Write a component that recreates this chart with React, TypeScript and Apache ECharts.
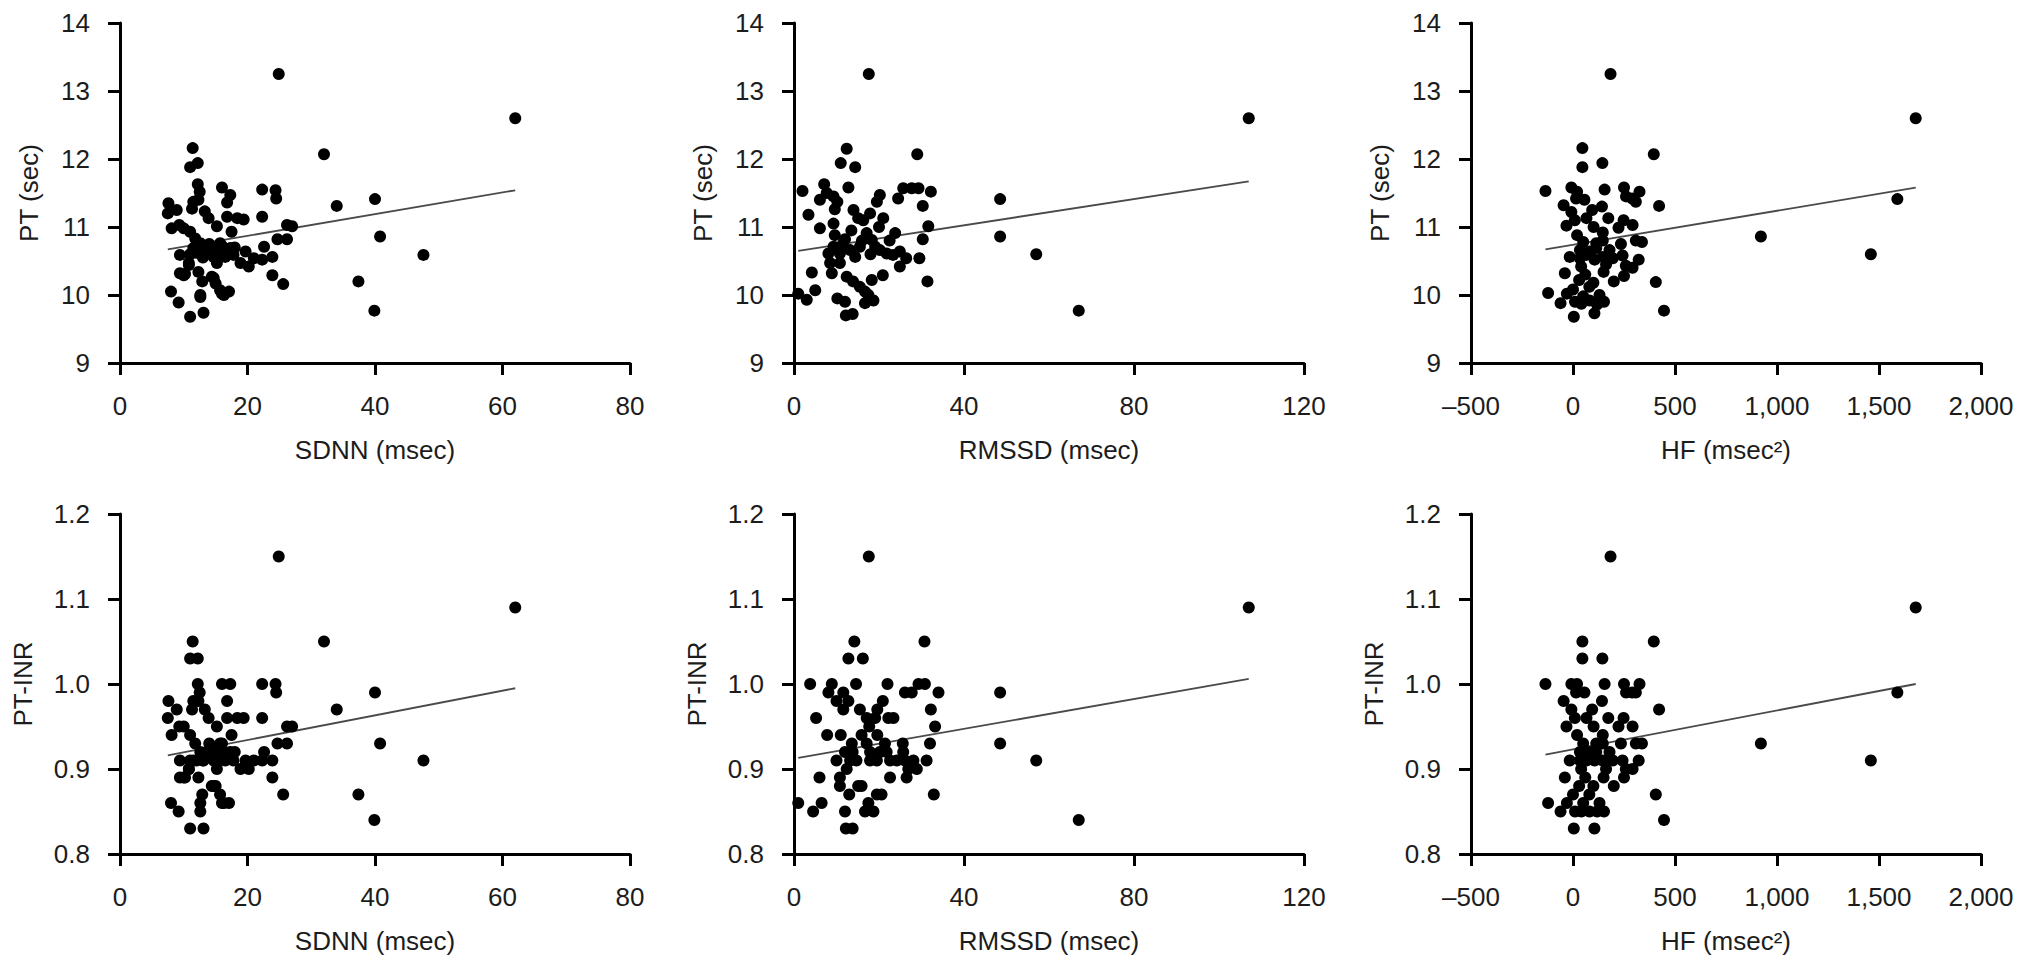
import { useEffect, useRef } from 'react'
import * as echarts from 'echarts'

// points, [x, y]
const SDNN_PT: [number, number][] = [
  [24.9,13.25],[11.4,12.16],[11.0,11.88],[12.2,11.94],[12.2,11.63],[12.5,11.52],[12.3,11.40],[11.5,11.37],
  [16.0,11.58],[17.3,11.47],[16.8,11.36],[22.3,11.55],[24.4,11.54],[24.5,11.42],[32.0,12.07],[34.0,11.31],
  [40.0,11.41],[40.8,10.86],[47.6,10.59],[37.4,10.20],[39.9,9.77],[62.0,12.60],
  [7.6,11.35],[7.5,11.20],[8.9,11.25],[8.1,10.98],[9.3,11.03],[11.3,11.27],[13.3,11.23],[13.9,11.13],
  [15.2,11.01],[16.8,11.15],[18.4,11.13],[19.4,11.11],[22.3,11.15],[17.5,10.93],[26.2,11.03],[27.0,11.01],
  [24.7,10.82],[26.2,10.82],[22.6,10.71],[11.0,10.93],[11.8,10.83],[12.6,10.76],[11.5,10.69],[13.1,10.61],
  [14.7,10.69],[15.7,10.76],[16.3,10.66],[17.3,10.69],[17.8,10.59],[19.7,10.64],[18.9,10.47],[20.2,10.42],
  [21.0,10.54],[22.3,10.52],[23.9,10.56],[9.4,10.59],[10.8,10.44],[9.4,10.32],[10.2,10.31],[12.3,10.34],
  [12.9,10.20],[12.6,10.0],[14.4,10.27],[15.0,10.17],[15.7,10.07],[17.1,10.05],[16.3,10.0],[23.9,10.29],
  [25.6,10.16],[8.0,10.05],[14.7,10.56],[13.9,10.61],[15.2,10.47],[13.6,10.71],[16.5,10.56],[9.2,9.89],
  [11.0,9.68],[12.6,9.97],[13.1,9.74],[14.7,10.25],[16.0,10.02],[10.8,10.47],[10.0,10.29],[12.0,10.62],
  [14.0,10.75],[15.5,10.60],[18.0,10.70],[13.0,10.55],[16.0,10.72],[11.0,10.60],[10.0,10.98],
]
const SDNN_INR: [number, number][] = [
  [24.9,1.15],[11.4,1.05],[11.0,1.03],[12.2,1.03],[12.2,1.00],[12.5,0.99],[12.3,0.98],[11.5,0.98],
  [16.0,1.00],[17.3,1.00],[16.8,0.98],[22.3,1.00],[24.4,1.00],[24.5,0.99],[32.0,1.05],[34.0,0.97],
  [40.0,0.99],[40.8,0.93],[47.6,0.91],[37.4,0.87],[39.9,0.84],[62.0,1.09],
  [7.6,0.98],[7.5,0.96],[8.9,0.97],[8.1,0.94],[9.3,0.95],[11.3,0.97],[13.3,0.97],[13.9,0.96],
  [15.2,0.95],[16.8,0.96],[18.4,0.96],[19.4,0.96],[22.3,0.96],[17.5,0.94],[26.2,0.95],[27.0,0.95],
  [24.7,0.93],[26.2,0.93],[22.6,0.92],[11.0,0.94],[11.8,0.93],[12.6,0.92],[11.5,0.91],[13.1,0.91],
  [14.7,0.92],[15.7,0.93],[16.3,0.92],[17.3,0.92],[17.8,0.91],[19.7,0.91],[18.9,0.90],[20.2,0.90],
  [21.0,0.91],[22.3,0.91],[23.9,0.91],[9.4,0.91],[10.8,0.90],[9.4,0.89],[10.2,0.89],[12.3,0.89],
  [12.9,0.87],[12.6,0.86],[14.4,0.88],[15.0,0.88],[15.7,0.87],[17.1,0.86],[16.3,0.86],[23.9,0.89],
  [25.6,0.87],[8.0,0.86],[14.7,0.91],[13.9,0.92],[15.2,0.90],[13.6,0.92],[16.5,0.91],[9.2,0.85],
  [11.0,0.83],[12.6,0.85],[13.1,0.83],[14.7,0.88],[16.0,0.86],[10.8,0.90],[10.0,0.89],[12.0,0.91],
  [14.0,0.93],[15.5,0.91],[18.0,0.92],[13.0,0.91],[16.0,0.93],[11.0,0.91],[10.0,0.95],
]
const RMSSD_PT: [number, number][] = [
  [17.6,13.25],[12.4,12.15],[11.0,11.94],[14.4,11.88],[29.0,12.07],
  [2.0,11.53],[3.4,11.18],[6.1,10.98],[7.1,11.63],[6.1,11.40],[7.7,11.50],[9.3,11.45],[10.2,11.37],[9.6,11.26],
  [12.8,11.58],[9.3,11.05],[9.6,10.88],[12.0,10.82],[14.0,11.25],[15.1,11.13],[16.3,11.10],
  [17.9,11.20],[19.5,11.37],[20.2,11.47],[21.0,11.13],[23.8,10.91],[24.5,11.42],
  [25.7,11.57],[27.7,11.57],[29.3,11.57],[32.2,11.52],[30.3,11.31],[31.6,11.01],[30.3,10.82],[29.5,10.54],[31.4,10.20],
  [48.5,11.41],[48.5,10.86],
  [8.1,10.61],[9.3,10.71],[10.8,10.61],[13.2,10.66],[14.4,10.56],[15.5,10.71],[17.1,10.91],[18.3,10.81],[19.1,10.71],
  [20.2,10.66],[21.8,10.61],[23.3,10.59],[24.9,10.64],[26.4,10.54],
  [8.5,10.47],[8.9,10.32],[10.8,10.47],[12.4,10.27],[13.9,10.20],[15.5,10.12],[16.7,10.05],[18.3,10.22],[20.9,10.29],[24.9,10.42],
  [4.2,10.33],[5.0,10.07],[1.0,10.02],[3.0,9.93],[10.2,9.95],
  [12.2,9.70],[13.8,9.72],[12.0,9.90],[16.7,9.88],[18.7,9.92],[17.5,10.0],
  [11.5,10.75],[16.0,10.80],[18.0,10.60],[22.5,10.80],[13.5,10.95],[20.0,11.0],
  [57.0,10.60],[67.0,9.77],[107,12.60],
]
const RMSSD_INR: [number, number][] = [
  [14.2,1.05],[12.8,1.03],[16.2,1.03],[30.7,1.05],
  [3.8,1.00],[8.9,1.00],[14.6,1.00],[22.0,1.00],[29.3,1.00],[30.8,1.00],
  [8.1,0.99],[11.6,0.99],[26.1,0.99],[27.7,0.99],[34.0,0.99],[48.5,0.99],
  [10.0,0.98],[12.8,0.98],[20.9,0.98],
  [11.6,0.97],[15.5,0.97],[19.6,0.97],[32.2,0.97],
  [5.2,0.96],[17.1,0.96],[19.1,0.96],[22.2,0.96],[23.4,0.96],
  [17.7,0.95],[33.2,0.95],
  [7.8,0.94],[11.0,0.94],[15.9,0.94],[19.6,0.94],
  [13.6,0.93],[17.1,0.93],[21.4,0.93],[25.6,0.93],[32.0,0.93],[48.5,0.93],
  [12.0,0.92],[13.8,0.92],[17.9,0.92],[20.2,0.92],[21.8,0.92],[25.7,0.92],
  [10.0,0.91],[13.2,0.91],[14.7,0.91],[17.9,0.91],[19.5,0.91],[22.6,0.91],[24.2,0.91],[26.1,0.91],[28.1,0.91],[31.2,0.91],[57.0,0.91],
  [12.4,0.90],[26.9,0.90],[28.9,0.90],
  [6.0,0.89],[10.8,0.89],[22.6,0.89],[26.5,0.89],
  [10.8,0.88],[15.1,0.88],[15.9,0.88],
  [13.0,0.87],[19.5,0.87],[20.6,0.87],[32.9,0.87],
  [1.0,0.86],[6.5,0.86],[17.5,0.86],
  [4.5,0.85],[12.0,0.85],[16.7,0.85],[18.7,0.85],
  [12.2,0.83],[13.8,0.83],
  [17.6,1.15],[107,1.09],[67.0,0.84],
]
const HF_PT: [number, number][] = [
  [184,13.25],[46,12.16],[396,12.07],[46,11.88],[144,11.94],
  [-135,11.53],[-8,11.58],[20,11.52],[155,11.55],[250,11.58],[326,11.52],
  [15,11.42],[56,11.40],[260,11.45],[290,11.42],[308,11.37],
  [-46,11.32],[142,11.30],[-8,11.22],[94,11.25],[422,11.31],
  [9,11.10],[66,11.13],[173,11.13],[248,11.10],
  [-32,11.02],[101,11.0],[223,10.99],[292,11.03],
  [20,10.88],[146,10.92],
  [50,10.78],[114,10.76],[146,10.80],[235,10.75],[308,10.80],[338,10.78],[921,10.86],
  [34,10.66],[82,10.64],[114,10.69],[179,10.66],
  [-16,10.56],[34,10.54],[66,10.59],[106,10.52],[146,10.56],[195,10.54],[243,10.58],[322,10.52],
  [40,10.42],[162,10.45],[259,10.43],[292,10.40],
  [-40,10.32],[60,10.30],[150,10.34],[250,10.28],
  [30,10.22],[100,10.18],[200,10.20],
  [0,10.08],[80,10.12],[406,10.19],
  [-122,10.03],[-30,10.02],[50,9.98],[130,10.0],
  [-61,9.88],[10,9.90],[41,9.87],[81,9.92],[118,9.86],[152,9.90],
  [446,9.77],[4,9.68],[105,9.73],
  [1460,10.60],[1590,11.41],[1680,12.60],
]
const HF_INR: [number, number][] = [
  [184,1.15],[46,1.05],[396,1.05],[46,1.03],[144,1.03],
  [-135,1.00],[-8,1.00],[20,1.00],[155,1.00],[250,1.00],[326,1.00],
  [15,0.99],[56,0.99],[260,0.99],[290,0.99],[308,0.99],
  [-46,0.98],[142,0.98],[-8,0.97],[94,0.97],[422,0.97],
  [9,0.96],[66,0.96],[173,0.96],[248,0.96],
  [-32,0.95],[101,0.95],[223,0.95],[292,0.95],
  [20,0.94],[146,0.94],
  [50,0.93],[114,0.93],[146,0.93],[235,0.93],[308,0.93],[338,0.93],[921,0.93],
  [34,0.92],[82,0.92],[114,0.92],[179,0.92],
  [-16,0.91],[34,0.91],[66,0.91],[106,0.91],[146,0.91],[195,0.91],[243,0.91],[322,0.91],
  [40,0.90],[162,0.90],[259,0.90],[292,0.90],
  [-40,0.89],[60,0.89],[150,0.89],[250,0.89],
  [30,0.88],[100,0.88],[200,0.88],
  [0,0.87],[80,0.87],[406,0.87],
  [-122,0.86],[-30,0.86],[50,0.86],[130,0.86],
  [-61,0.85],[10,0.85],[41,0.85],[81,0.85],[118,0.85],[152,0.85],
  [446,0.84],[4,0.83],[105,0.83],
  [1460,0.91],[1590,0.99],[1680,1.09],
]

// regression line end points
const FIT_SDNN_PT: [number, number][] = [[7.5, 10.67], [62, 11.54]]
const FIT_SDNN_INR: [number, number][] = [[7.5, 0.916], [62, 0.995]]
const FIT_RMSSD_PT: [number, number][] = [[1.0, 10.65], [107, 11.67]]
const FIT_RMSSD_INR: [number, number][] = [[1.0, 0.913], [107, 1.006]]
const FIT_HF_PT: [number, number][] = [[-135, 10.67], [1680, 11.58]]
const FIT_HF_INR: [number, number][] = [[-135, 0.917], [1680, 1.0]]

const X_NAMES = ['SDNN (msec)', 'RMSSD (msec)', 'HF (msec\u00b2)']
const X_RANGES = [[0, 80, 20], [0, 120, 40], [-500, 2000, 500]]
const Y_NAMES = ['PT (sec)', 'PT-INR']
const Y_RANGES = [[9, 14, 1], [0.8, 1.2, 0.1]]

const PANELS = [
  { pts: SDNN_PT, fit: FIT_SDNN_PT, col: 0, row: 0 },
  { pts: RMSSD_PT, fit: FIT_RMSSD_PT, col: 1, row: 0 },
  { pts: HF_PT, fit: FIT_HF_PT, col: 2, row: 0 },
  { pts: SDNN_INR, fit: FIT_SDNN_INR, col: 0, row: 1 },
  { pts: RMSSD_INR, fit: FIT_RMSSD_INR, col: 1, row: 1 },
  { pts: HF_INR, fit: FIT_HF_INR, col: 2, row: 1 },
]

const FONT = '"Liberation Sans", Arial, sans-serif'
const INK = '#000'
const GRID_LEFT = [120, 794, 1471]
const GRID_TOP = [23, 514]

const fmtX = (v: number) => (v < 0 ? '\u2013' + Math.abs(v) : v.toLocaleString('en-US'))

export default function App() {
  const ref = useRef<HTMLDivElement>(null)

  useEffect(() => {
    if (!ref.current) return
    const chart = echarts.init(ref.current, null, { renderer: 'svg' })

    const axisCommon = {
      axisLine: { show: true, onZero: false, lineStyle: { color: INK, width: 3 } },
      axisTick: { show: true, inside: false, length: 12, lineStyle: { color: INK, width: 3 } },
      splitLine: { show: false },
      nameLocation: 'middle' as const,
      nameTextStyle: { fontFamily: FONT, fontSize: 26, color: '#1c1c1c' },
    }

    chart.setOption({
      animation: false,
      backgroundColor: '#ffffff',
      grid: PANELS.map(p => ({
        left: GRID_LEFT[p.col], top: GRID_TOP[p.row], width: 510, height: 340,
      })),
      xAxis: PANELS.map((p, i) => ({
        ...axisCommon,
        type: 'value',
        gridIndex: i,
        min: X_RANGES[p.col][0], max: X_RANGES[p.col][1], interval: X_RANGES[p.col][2],
        name: X_NAMES[p.col],
        nameGap: 74,
        axisLabel: { margin: 30, fontFamily: FONT, fontSize: 26, color: '#1c1c1c', formatter: fmtX },
      })),
      yAxis: PANELS.map((p, i) => ({
        ...axisCommon,
        type: 'value',
        gridIndex: i,
        min: Y_RANGES[p.row][0], max: Y_RANGES[p.row][1], interval: Y_RANGES[p.row][2],
        name: Y_NAMES[p.row],
        nameGap: p.row === 0 ? 78 : 84,
        axisLabel: {
          margin: 30, fontFamily: FONT, fontSize: 26, color: '#1c1c1c',
          formatter: (v: number) => (p.row === 0 ? String(v) : v.toFixed(1)),
        },
      })),
      series: PANELS.flatMap((p, i) => [
        {
          type: 'scatter',
          xAxisIndex: i, yAxisIndex: i,
          data: p.pts,
          symbol: 'circle',
          symbolSize: 12,
          itemStyle: { color: '#000', opacity: 1 },
          z: 3,
        },
        {
          type: 'line',
          xAxisIndex: i, yAxisIndex: i,
          data: p.fit,
          symbol: 'none',
          lineStyle: { color: '#4a4a4a', width: 1.8 },
          z: 2,
        },
      ]),
    })

    return () => chart.dispose()
  }, [])

  return (
    <div
      ref={ref}
      style={{ position: 'fixed', left: 0, top: 0, width: 2032, height: 972, background: '#fff' }}
    />
  )
}
